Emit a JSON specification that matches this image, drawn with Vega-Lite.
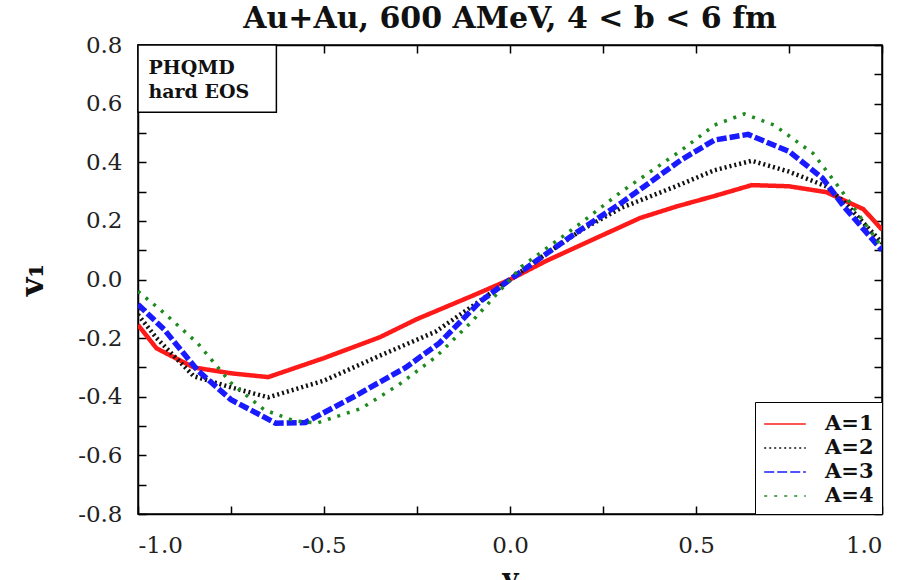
{
  "$schema": "https://vega.github.io/schema/vega-lite/v6.json",
  "width": 744,
  "height": 469,
  "autosize": {"type": "none"},
  "padding": {"left": 138, "top": 45, "right": 32, "bottom": 66},
  "background": "white",
  "title": {
    "text": "Au+Au, 600 AMeV, 4 < b < 6 fm",
    "font": "DejaVu Serif",
    "fontSize": 30,
    "fontWeight": "bold",
    "color": "#111111",
    "anchor": "middle",
    "offset": 0
  },
  "config": {
    "font": "DejaVu Serif",
    "view": {"stroke": "black", "strokeWidth": 1.5},
    "axis": {
      "domainColor": "black",
      "domainWidth": 1.5,
      "tickColor": "black",
      "tickWidth": 1.5,
      "tickSize": -8,
      "grid": false,
      "labelFont": "DejaVu Serif",
      "labelFontSize": 23,
      "labelColor": "#222222",
      "titleFont": "DejaVu Serif",
      "titleFontWeight": "bold",
      "titleColor": "#111111"
    },
    "legend": {
      "title": null,
      "orient": "bottom-right",
      "offset": 0,
      "padding": 8,
      "strokeColor": "black",
      "fillColor": "white",
      "symbolType": "M-1.6,0H1.6",
      "symbolSize": 676,
      "symbolOffset": 8,
      "symbolStrokeWidth": 1.5,
      "labelFont": "DejaVu Serif",
      "labelFontSize": 21,
      "labelFontWeight": "bold",
      "labelColor": "#111111",
      "labelOffset": 26,
      "rowPadding": 0
    }
  },
  "resolve": {"axis": {"x": "independent", "y": "independent"}},
  "layer": [
    {
      "data": {
        "values": [
          {"A": "A=1", "x": -1.0, "v1": -0.155},
          {"A": "A=1", "x": -0.95, "v1": -0.235},
          {"A": "A=1", "x": -0.85, "v1": -0.3},
          {"A": "A=1", "x": -0.75, "v1": -0.32},
          {"A": "A=1", "x": -0.65, "v1": -0.333},
          {"A": "A=1", "x": -0.5, "v1": -0.268},
          {"A": "A=1", "x": -0.35, "v1": -0.197},
          {"A": "A=1", "x": -0.25, "v1": -0.135},
          {"A": "A=1", "x": -0.1, "v1": -0.055},
          {"A": "A=1", "x": 0.0, "v1": 0.0},
          {"A": "A=1", "x": 0.1, "v1": 0.065},
          {"A": "A=1", "x": 0.25, "v1": 0.152},
          {"A": "A=1", "x": 0.35, "v1": 0.21},
          {"A": "A=1", "x": 0.45, "v1": 0.25},
          {"A": "A=1", "x": 0.55, "v1": 0.285},
          {"A": "A=1", "x": 0.65, "v1": 0.322},
          {"A": "A=1", "x": 0.75, "v1": 0.318},
          {"A": "A=1", "x": 0.85, "v1": 0.298},
          {"A": "A=1", "x": 0.95, "v1": 0.24},
          {"A": "A=1", "x": 1.0, "v1": 0.17},

          {"A": "A=2", "x": -1.0, "v1": -0.12},
          {"A": "A=2", "x": -0.95, "v1": -0.2},
          {"A": "A=2", "x": -0.85, "v1": -0.33},
          {"A": "A=2", "x": -0.75, "v1": -0.368},
          {"A": "A=2", "x": -0.65, "v1": -0.402},
          {"A": "A=2", "x": -0.5, "v1": -0.345},
          {"A": "A=2", "x": -0.35, "v1": -0.26},
          {"A": "A=2", "x": -0.2, "v1": -0.178},
          {"A": "A=2", "x": -0.1, "v1": -0.09},
          {"A": "A=2", "x": 0.0, "v1": 0.0},
          {"A": "A=2", "x": 0.1, "v1": 0.09},
          {"A": "A=2", "x": 0.2, "v1": 0.175},
          {"A": "A=2", "x": 0.3, "v1": 0.245},
          {"A": "A=2", "x": 0.45, "v1": 0.32},
          {"A": "A=2", "x": 0.55, "v1": 0.373},
          {"A": "A=2", "x": 0.65, "v1": 0.405},
          {"A": "A=2", "x": 0.75, "v1": 0.368},
          {"A": "A=2", "x": 0.85, "v1": 0.318},
          {"A": "A=2", "x": 0.9, "v1": 0.262},
          {"A": "A=2", "x": 1.0, "v1": 0.125},

          {"A": "A=3", "x": -1.0, "v1": -0.085},
          {"A": "A=3", "x": -0.93, "v1": -0.17},
          {"A": "A=3", "x": -0.84, "v1": -0.31},
          {"A": "A=3", "x": -0.75, "v1": -0.41},
          {"A": "A=3", "x": -0.63, "v1": -0.49},
          {"A": "A=3", "x": -0.55, "v1": -0.488},
          {"A": "A=3", "x": -0.42, "v1": -0.4},
          {"A": "A=3", "x": -0.28, "v1": -0.3},
          {"A": "A=3", "x": -0.19, "v1": -0.217},
          {"A": "A=3", "x": -0.08, "v1": -0.075},
          {"A": "A=3", "x": 0.0, "v1": 0.0},
          {"A": "A=3", "x": 0.1, "v1": 0.09},
          {"A": "A=3", "x": 0.19, "v1": 0.17},
          {"A": "A=3", "x": 0.3, "v1": 0.262},
          {"A": "A=3", "x": 0.46, "v1": 0.408},
          {"A": "A=3", "x": 0.55, "v1": 0.476},
          {"A": "A=3", "x": 0.64, "v1": 0.495},
          {"A": "A=3", "x": 0.75, "v1": 0.437},
          {"A": "A=3", "x": 0.84, "v1": 0.346},
          {"A": "A=3", "x": 0.9, "v1": 0.245},
          {"A": "A=3", "x": 1.0, "v1": 0.1},

          {"A": "A=4", "x": -1.0, "v1": -0.04},
          {"A": "A=4", "x": -0.93, "v1": -0.114},
          {"A": "A=4", "x": -0.84, "v1": -0.217},
          {"A": "A=4", "x": -0.75, "v1": -0.353},
          {"A": "A=4", "x": -0.66, "v1": -0.445},
          {"A": "A=4", "x": -0.58, "v1": -0.482},
          {"A": "A=4", "x": -0.52, "v1": -0.49},
          {"A": "A=4", "x": -0.4, "v1": -0.44},
          {"A": "A=4", "x": -0.3, "v1": -0.36},
          {"A": "A=4", "x": -0.2, "v1": -0.265},
          {"A": "A=4", "x": -0.1, "v1": -0.14},
          {"A": "A=4", "x": 0.0, "v1": 0.0},
          {"A": "A=4", "x": 0.03, "v1": 0.043},
          {"A": "A=4", "x": 0.19, "v1": 0.192},
          {"A": "A=4", "x": 0.3, "v1": 0.3},
          {"A": "A=4", "x": 0.46, "v1": 0.44},
          {"A": "A=4", "x": 0.55, "v1": 0.527},
          {"A": "A=4", "x": 0.63, "v1": 0.565},
          {"A": "A=4", "x": 0.71, "v1": 0.527},
          {"A": "A=4", "x": 0.815, "v1": 0.43},
          {"A": "A=4", "x": 0.89, "v1": 0.305},
          {"A": "A=4", "x": 1.0, "v1": 0.11}
        ]
      },
      "encoding": {
        "x": {
          "field": "x",
          "type": "quantitative",
          "scale": {"domain": [-1, 1], "nice": false, "zero": false},
          "axis": {
            "orient": "bottom",
            "title": "y",
            "titleFontSize": 28,
            "titlePadding": 8,
            "values": [-1, -0.75, -0.5, -0.25, 0, 0.25, 0.5, 0.75, 1],
            "labelPadding": 28,
            "labelExpr": "abs(round(datum.value * 100)) % 50 == 0 ? replace(format(datum.value, '.1f'), '\u2212', '-') : ''"
          }
        },
        "y": {
          "field": "v1",
          "type": "quantitative",
          "scale": {"domain": [-0.8, 0.8], "nice": false, "zero": false},
          "axis": {
            "orient": "left",
            "title": "v\u2081",
            "titleFontSize": 32,
            "titlePadding": 28,
            "values": [-0.8, -0.7, -0.6, -0.5, -0.4, -0.3, -0.2, -0.1, 0, 0.1, 0.2, 0.3, 0.4, 0.5, 0.6, 0.7, 0.8],
            "labelPadding": 24,
            "labelExpr": "abs(round(datum.value * 10)) % 2 == 0 ? replace(format(datum.value, '.1f'), '\u2212', '-') : ''"
          }
        },
        "color": {
          "field": "A",
          "type": "nominal",
          "scale": {"domain": ["A=1", "A=2", "A=3", "A=4"], "range": ["#ff1a1a", "#111111", "#1a1aff", "#1f8a1f"]}
        },
        "strokeDash": {
          "field": "A",
          "type": "nominal",
          "scale": {"domain": ["A=1", "A=2", "A=3", "A=4"], "range": [[1, 0], [2, 3], [10, 3], [3, 7]]}
        },
        "order": {"field": "x", "type": "quantitative"}
      },
      "layer": [
        {
          "transform": [{"filter": "datum.A == 'A=1'"}],
          "mark": {"type": "line", "clip": true, "strokeWidth": 4.5}
        },
        {
          "transform": [{"filter": "datum.A == 'A=2'"}],
          "mark": {"type": "line", "clip": true, "strokeWidth": 4.5}
        },
        {
          "transform": [{"filter": "datum.A == 'A=3'"}],
          "mark": {"type": "line", "clip": true, "strokeWidth": 5.5}
        },
        {
          "transform": [{"filter": "datum.A == 'A=4'"}],
          "mark": {"type": "line", "clip": true, "strokeWidth": 3.5}
        }
      ]
    },
    {
      "data": {"values": [{"label": "PHQMD"}]},
      "mark": {"type": "rect", "fill": "white", "stroke": "black", "strokeWidth": 1.5},
      "encoding": {
        "x": {"datum": -1, "type": "quantitative", "axis": {"orient": "top", "labels": false, "title": null, "values": [-1, -0.75, -0.5, -0.25, 0, 0.25, 0.5, 0.75, 1]}},
        "x2": {"datum": -0.628},
        "y": {"datum": 0.8, "type": "quantitative", "axis": {"orient": "right", "labels": false, "title": null, "values": [-0.8, -0.7, -0.6, -0.5, -0.4, -0.3, -0.2, -0.1, 0, 0.1, 0.2, 0.3, 0.4, 0.5, 0.6, 0.7, 0.8]}},
        "y2": {"datum": 0.571}
      }
    },
    {
      "data": {"values": [{"label": "PHQMD"}]},
      "mark": {"type": "text", "align": "left", "baseline": "alphabetic", "font": "DejaVu Serif", "fontWeight": "bold", "fontSize": 19, "fill": "#111111", "lineHeight": 24},
      "encoding": {
        "x": {"datum": -0.972, "type": "quantitative", "axis": null},
        "y": {"datum": 0.702, "type": "quantitative", "axis": null},
        "text": {"value": ["PHQMD", "hard EOS"]}
      }
    }
  ]
}
